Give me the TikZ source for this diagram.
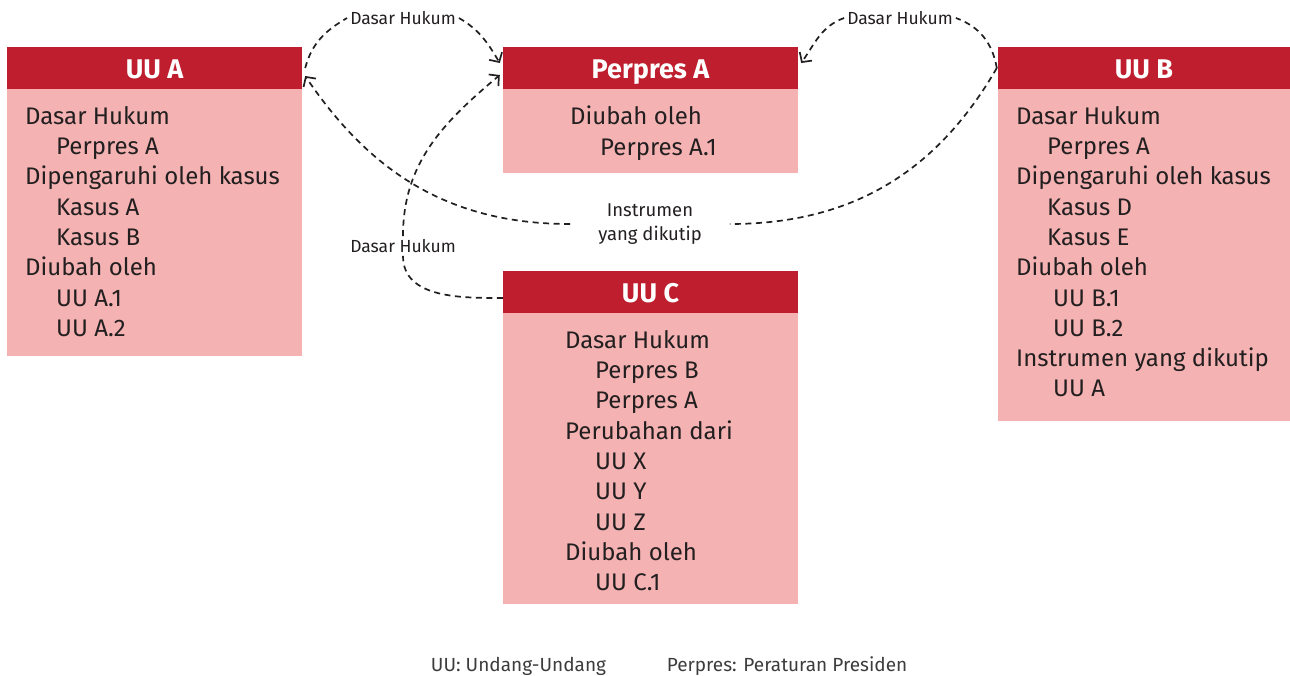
\documentclass[tikz,border=0pt]{standalone}
\usepackage{fontspec}
\setmainfont{Fira Sans}
\usetikzlibrary{arrows.meta}

\definecolor{uured}{HTML}{BE1E2D}
\definecolor{uupink}{HTML}{F4B3B2}
\definecolor{uutext}{HTML}{231F20}
\definecolor{uugray}{HTML}{3C3C3C}

\tikzset{
	head/.style={fill=uured, text=white, minimum width=295pt, minimum height=42pt, inner sep=0pt, text height=20.6pt, text depth=0pt, font=\fontsize{27}{30}\selectfont\bfseries},
	body/.style={fill=uupink, minimum width=295pt, inner sep=0pt},
	lines/.style={anchor=north west, align=left, inner sep=0pt, text=uutext, font=\fontsize{24}{30.3}\selectfont},
	tag/.style={inner sep=3pt, text=uutext, font=\fontsize{17.5}{24}\selectfont},
	legend/.style={inner sep=0pt, text=uugray, font=\fontsize{19}{22}\selectfont},
	link/.style={draw=uutext, line width=1.7pt, dash pattern=on 6pt off 4.5pt},
	>={Straight Barb[length=7pt,width=15pt]}
}

\begin{document}
\begin{tikzpicture}[x=1pt, y=-1pt]

	\useasboundingbox (0,0) rectangle (1290,675);

	% UU A
	\node[head] (hA) at (154.5,68) {UU A};
	\node[body, minimum height=266.7pt] (bA) at (154.5,222.3) {};
	\node[lines] (tA) at (25,106) {Dasar Hukum\\\hspace*{31pt}Perpres A\\Dipengaruhi oleh kasus\\\hspace*{31pt}Kasus A\\\hspace*{31pt}Kasus B\\Diubah oleh\\\hspace*{31pt}UU A.1\\\hspace*{31pt}UU A.2};

	% Perpres A
	\node[head] (hP) at (650.5,68) {Perpres A};
	\node[body, minimum height=84pt] (bP) at (650.5,131) {};
	\node[lines] (tP) at (570,106) {Diubah oleh\\\hspace*{30pt}Perpres A.1};

	% UU B
	\node[head, minimum width=292pt] (hB) at (1144,68) {UU B};
	\node[body, minimum width=292pt, minimum height=332pt] (bB) at (1144,255) {};
	\node[lines] (tB) at (1016,106) {Dasar Hukum\\\hspace*{31pt}Perpres A\\Dipengaruhi oleh kasus\\\hspace*{31pt}Kasus D\\\hspace*{31pt}Kasus E\\Diubah oleh\\\hspace*{37pt}UU B.1\\\hspace*{37pt}UU B.2\\Instrumen yang dikutip\\\hspace*{37pt}UU A};

	% UU C
	\node[head] (hC) at (650.5,292) {UU C};
	\node[body, minimum height=291pt] (bC) at (650.5,458.5) {};
	\node[lines] (tC) at (565,330) {Dasar Hukum\\\hspace*{30pt}Perpres B\\\hspace*{30pt}Perpres A\\Perubahan dari\\\hspace*{30pt}UU X\\\hspace*{30pt}UU Y\\\hspace*{30pt}UU Z\\Diubah oleh\\\hspace*{30pt}UU C.1};

	% labels on the links
	\node[tag] (dh1) at (403,18) {Dasar Hukum};
	\node[tag] (dh2) at (900,18) {Dasar Hukum};
	\node[tag] (dh3) at (403,246) {Dasar Hukum};
	\node[tag, align=center, inner xsep=28pt, font=\fontsize{18.5}{24}\selectfont] (cite) at (650,224) {Instrumen\\yang dikutip};

	\draw[link] ([xshift=3pt]hA.east) to[out=75, in=210] (dh1.west);
	\draw[link, ->] (dh1.east) to[out=-30, in=121] ([xshift=-3pt, yshift=5pt]hP.west);

	\draw[link] ([xshift=-1pt]hB.west) to[out=100, in=-20] (dh2.east);
	\draw[link, ->] (dh2.west) to[out=200, in=55] ([xshift=3pt, yshift=5pt]hP.east);

	\draw[link] ([xshift=-1pt]hB.west) to[out=-120, in=0] (cite.east);
	\draw[link, ->] (cite.west) to[out=180, in=-56] ([xshift=3pt, yshift=-8pt]hA.east);

	\draw[link] ([yshift=-6pt]hC.west) to[out=180, in=-90] (dh3.south);
	\draw[link, ->] (dh3.north) to[out=90, in=-140] ([xshift=-3pt, yshift=-7pt]hP.west);

	% legend
	\node[legend] (kUU) at (518.5,666) {UU: Undang-Undang};
	\node[legend] (kPP) at (787,666) {Perpres: Peraturan Presiden};

\end{tikzpicture}
\end{document}
